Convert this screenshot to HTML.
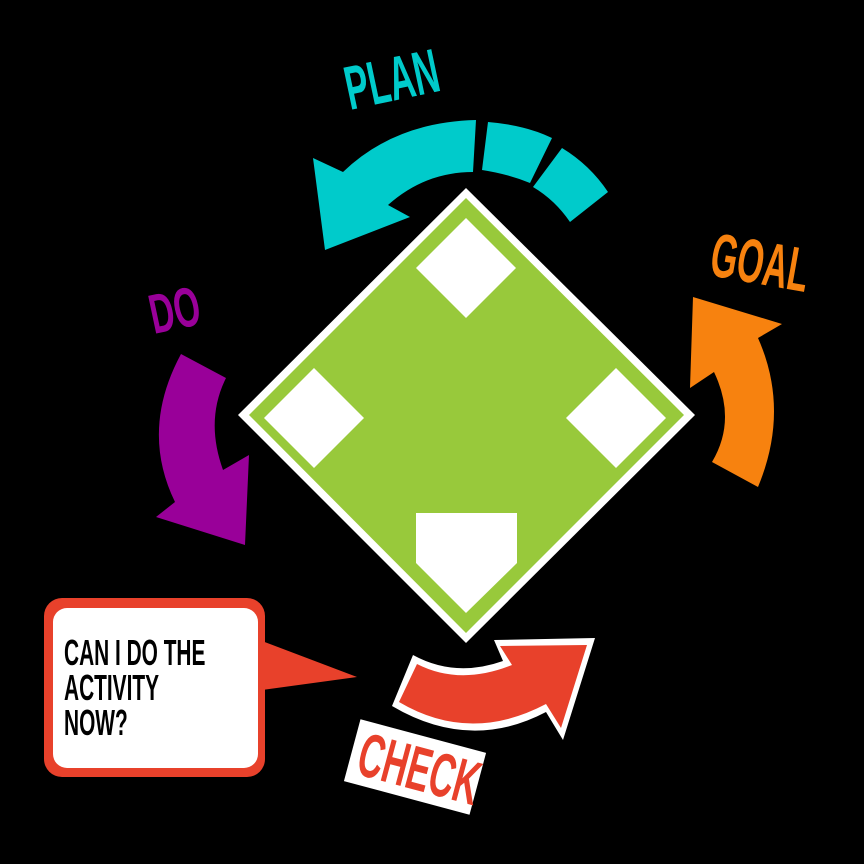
<!DOCTYPE html>
<html><head><style>
html,body{margin:0;padding:0;background:#000;}
svg{display:block}
text{font-family:"Liberation Sans Narrow","Liberation Sans",sans-serif;font-weight:bold}
</style></head><body>
<svg width="864" height="864" viewBox="0 0 864 864" xmlns="http://www.w3.org/2000/svg">
<rect width="864" height="864" fill="#000"/>
<!-- diamond -->
<polygon points="466,188 695,415 466,643 238,415" fill="#fff"/>
<polygon points="466,198 684,415 466,633 249,415" fill="#98c93b"/>
<polygon points="466,218 516,268 466,318 416,268" fill="#fff"/>
<polygon points="314,368 364,418 314,468 264,418" fill="#fff"/>
<polygon points="616,368 666,418 616,468 566,418" fill="#fff"/>
<polygon points="416,513 517,513 517,563 466,613 416,563" fill="#fff"/>
<!-- PLAN arrow -->
<path d="M476,120 L473,172 Q425,172 388,205 L410,217 L325,250 L313,158 L343,172 Q395,122 476,120 Z" fill="#00cbcb"/>
<path d="M488,122 Q525,125 552,138 L530,183 Q508,174 482,170 Z" fill="#00cbcb"/>
<path d="M562,148 Q590,165 608,192 L570,222 Q555,200 533,187 Z" fill="#00cbcb"/>
<text transform="translate(350,110) rotate(-12) scale(0.56,1)" font-size="62" fill="#00cbcb">PLAN</text>
<!-- GOAL arrow -->
<path d="M693,297 L782,324 L758,338 Q790,410 758,487 L712,462 Q737,420 714,372 L690,388 Z" fill="#f7820f"/>
<text transform="translate(708,275) rotate(10) scale(0.55,1)" font-size="62" fill="#f7820f">GOAL</text>
<!-- DO arrow -->
<path d="M181,354 L226,378 Q205,420 223,470 L249,455 L245,545 L156,517 L175,502 Q140,430 181,354 Z" fill="#990099"/>
<text transform="translate(154,334) rotate(-12) scale(0.6,1)" font-size="56" fill="#990099">DO</text>
<!-- CHECK arrow -->
<path d="M413,655 Q455,678 503,661 L494,640 L595,638 L563,740 L546,712 Q470,752 392,706 Z" fill="#fff"/>
<path d="M417,664 Q460,686 512,665 L500,646 L587,645 L561,728 L546,704 Q470,744 399,702 Z" fill="#e8412b"/>
<!-- CHECK label -->
<g transform="translate(415,767) rotate(15)">
<rect x="-65" y="-32" width="130" height="64" fill="#fff"/>
<text transform="translate(-57,22) scale(0.56,1)" font-size="62" fill="#e8412b">CHECK</text>
</g>
<!-- speech bubble -->
<polygon points="262,641 357,677 262,690" fill="#e8412b"/>
<rect x="44" y="598" width="221" height="179" rx="18" fill="#e8412b"/>
<rect x="53" y="608" width="205" height="160" rx="14" fill="#fff"/>
<g font-size="36" fill="#000">
<text transform="translate(64,665) scale(0.58,1)">CAN I DO THE</text>
<text transform="translate(64,700) scale(0.58,1)">ACTIVITY</text>
<text transform="translate(64,735) scale(0.58,1)">NOW?</text>
</g>
</svg>
</body></html>
